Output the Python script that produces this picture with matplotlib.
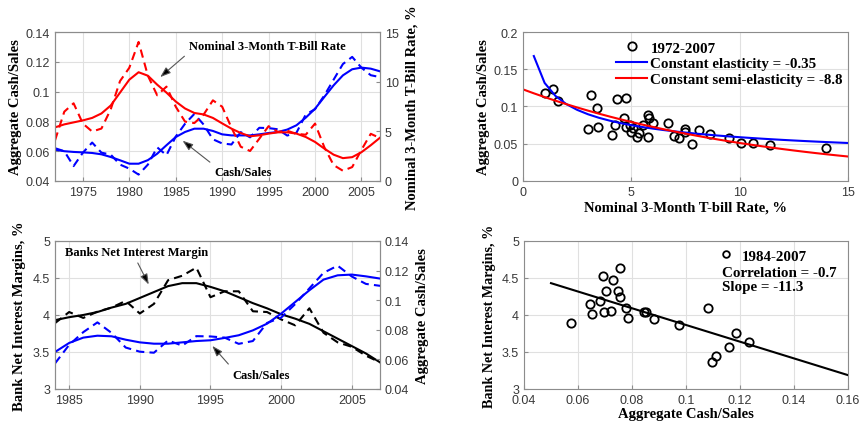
import numpy as np
import matplotlib.pyplot as plt
from matplotlib.ticker import FuncFormatter

# annual data 1972-2007
years = np.arange(1972, 2008)
tbill = [4.09, 6.98, 7.82, 5.78, 4.98, 5.28, 7.22, 10.06, 11.4, 14.0, 10.6, 8.63,
         9.5, 7.48, 5.98, 5.83, 6.68, 8.12, 7.48, 5.37, 3.45, 3.02, 4.26, 5.52,
         4.94, 5.06, 4.75, 4.66, 5.78, 3.4, 1.6, 1.03, 1.4, 3.14, 4.75, 4.32]
cash_sales = [0.062, 0.060, 0.050, 0.059, 0.0658, 0.059, 0.0577, 0.051, 0.0483, 0.0443,
              0.051, 0.0626, 0.0573, 0.0698, 0.0784, 0.085, 0.0779, 0.068, 0.0652, 0.0645,
              0.0728, 0.0693, 0.0757, 0.0755, 0.0747, 0.0705, 0.0724, 0.0846, 0.0882, 0.0974,
              0.108, 0.1185, 0.1233, 0.116, 0.111, 0.1097]
tbill_trend = [5.4, 5.7, 5.9, 6.1, 6.35, 6.8, 7.6, 8.9, 10.2, 10.95, 10.6, 9.7,
               8.9, 8.0, 7.3, 6.85, 6.7, 6.35, 5.8, 5.27, 4.83, 4.5, 4.6, 4.77,
               4.9, 4.9, 4.77, 4.43, 3.93, 3.26, 2.65, 2.3, 2.4, 2.9, 3.6, 4.36]
cash_trend = [0.061, 0.060, 0.0595, 0.0592, 0.0588, 0.0579, 0.0561, 0.0539, 0.0516, 0.0516,
              0.054, 0.0583, 0.064, 0.0695, 0.0729, 0.0751, 0.0751, 0.0736, 0.0713, 0.0706,
              0.0706, 0.0706, 0.0713, 0.0722, 0.0729, 0.0745, 0.0774, 0.0825, 0.0885, 0.0964,
              0.1042, 0.1109, 0.115, 0.1161, 0.1154, 0.1136]

# bank data 1984-2007
years_b = np.arange(1984, 2008)
nim = [3.89, 4.04, 3.96, 4.045, 4.10, 4.19, 4.02, 4.15, 4.47, 4.53, 4.64, 4.24,
       4.32, 4.32, 4.05, 4.04, 3.94, 3.86, 4.09, 3.76, 3.63, 3.57, 3.45, 3.36]
nim_trend = [3.93, 3.97, 4.0, 4.04, 4.1, 4.15, 4.23, 4.31, 4.39, 4.43, 4.43, 4.38,
             4.32, 4.24, 4.16, 4.09, 4.01, 3.95, 3.88, 3.78, 3.68, 3.58, 3.48, 3.36]
cash_trend_b = [0.065, 0.0711, 0.0747, 0.076, 0.0756, 0.0733, 0.0715, 0.0706, 0.0706, 0.0715,
                0.0724, 0.0729, 0.0745, 0.0763, 0.0796, 0.0841, 0.0909, 0.0988, 0.1067, 0.1139,
                0.1168, 0.1173, 0.1161, 0.1146]
cash_b = cash_sales[12:]

# fitted money demand curves and regression line
elasticity = -0.35
elasticity_scale = 0.1316
semi_elasticity = -8.8
semi_scale = 0.123
slope = -11.3
intercept = 4.995

plt.rcParams['font.family'] = ['Liberation Sans', 'DejaVu Sans']
plt.rcParams['font.size'] = 9
plt.rcParams['axes.edgecolor'] = '#8c8c8c'
plt.rcParams['axes.linewidth'] = 0.8
plt.rcParams['xtick.color'] = '#8c8c8c'
plt.rcParams['ytick.color'] = '#8c8c8c'
plt.rcParams['xtick.labelcolor'] = '#383838'
plt.rcParams['ytick.labelcolor'] = '#383838'
plt.rcParams['xtick.direction'] = 'in'
plt.rcParams['ytick.direction'] = 'in'
plt.rcParams['xtick.major.size'] = 3
plt.rcParams['ytick.major.size'] = 3
plt.rcParams['grid.color'] = '#e0e0e0'
plt.rcParams['grid.linewidth'] = 0.8

bold = dict(family='Liberation Serif', weight='bold')
fmt = FuncFormatter(lambda v, p: '%g' % v)
dash = (4, 2.5)
arrow = dict(arrowstyle='-|>,head_length=0.7,head_width=0.25', fc='k', ec='#555555', lw=0.8)
lab = 10.5

fig = plt.figure(figsize=(8.61, 4.27), dpi=100)

# top left: time series cash/sales and T-bill rate
ax1 = fig.add_axes([0.0639, 0.5738, 0.3775, 0.3489])
ax1.plot(years, cash_sales, color='b', lw=1.5, ls='--', dashes=dash)
ax1.plot(years, cash_trend, color='b', lw=1.5)
ax1.set_xlim(1972, 2007)
ax1.set_ylim(0.04, 0.14)
ax1.set_xticks([1975, 1980, 1985, 1990, 1995, 2000, 2005])
ax1.set_yticks([0.04, 0.06, 0.08, 0.1, 0.12, 0.14])
ax1.yaxis.set_major_formatter(fmt)
ax1.grid(True)
ax1.set_ylabel('Aggregate Cash/Sales', fontsize=lab, labelpad=3, **bold)
ax1r = ax1.twinx()
ax1r.plot(years, tbill, color='r', lw=1.5, ls='--', dashes=dash)
ax1r.plot(years, tbill_trend, color='r', lw=1.5)
ax1r.set_ylim(0, 15)
ax1r.set_yticks([0, 5, 10, 15])
ax1r.set_ylabel('Nominal 3-Month T-Bill Rate, %', fontsize=lab, labelpad=5, **bold)
ax1.annotate('Nominal 3-Month T-Bill Rate', xy=(1983.1, 0.1085), xytext=(1994.9, 0.1306),
             ha='center', va='center', fontsize=9, **bold,
             arrowprops=dict(arrow, relpos=(0, 0)))
ax1.annotate('Cash/Sales', xy=(1985.5, 0.0682), xytext=(1992.3, 0.046),
             ha='center', va='center', fontsize=9, **bold,
             arrowprops=dict(arrow, relpos=(0, 1)))

# top right: cash/sales vs T-bill rate
ax2 = fig.add_axes([0.6074, 0.5738, 0.3775, 0.3489])
ax2.plot(tbill, cash_sales, 'o', mfc='none', mec='k', ms=6, mew=1.3, label='1972-2007')
r1 = np.arange(0.5, 15.01, 0.5)
r2 = np.arange(0, 15.01, 0.5)
ax2.plot(r1, elasticity_scale * r1 ** elasticity, color='b', lw=1.5,
         label='Constant elasticity = %g' % elasticity)
ax2.plot(r2, semi_scale * np.exp(semi_elasticity / 100 * r2), color='r', lw=1.5,
         label='Constant semi-elasticity = %g' % semi_elasticity)
ax2.set_xlim(0, 15)
ax2.set_ylim(0, 0.2)
ax2.set_xticks([0, 5, 10, 15])
ax2.set_yticks([0, 0.05, 0.1, 0.15, 0.2])
ax2.yaxis.set_major_formatter(fmt)
ax2.grid(True)
ax2.set_xlabel('Nominal 3-Month T-bill Rate, %', fontsize=lab, labelpad=2, **bold)
ax2.set_ylabel('Aggregate Cash/Sales', fontsize=lab, labelpad=3, **bold)
ax2.legend(loc='upper right', bbox_to_anchor=(1.012, 1.0), frameon=False,
           prop=dict(size=10.8, **bold), handlelength=2.1, handletextpad=0.2,
           labelspacing=0.15, borderaxespad=0.2)

# bottom left: net interest margin and cash/sales
ax3 = fig.add_axes([0.0639, 0.0867, 0.3775, 0.3466])
ax3.plot(years_b, nim, color='k', lw=1.5, ls='--', dashes=dash)
ax3.plot(years_b, nim_trend, color='k', lw=1.5)
ax3.set_xlim(1984, 2007)
ax3.set_ylim(3, 5)
ax3.set_xticks([1985, 1990, 1995, 2000, 2005])
ax3.set_yticks([3, 3.5, 4, 4.5, 5])
ax3.yaxis.set_major_formatter(fmt)
ax3.grid(True)
ax3.set_ylabel('Bank Net Interest Margins, %', fontsize=lab, labelpad=5, **bold)
ax3r = ax3.twinx()
ax3r.plot(years_b, cash_b, color='b', lw=1.5, ls='--', dashes=dash)
ax3r.plot(years_b, cash_trend_b, color='b', lw=1.5)
ax3r.set_ylim(0.04, 0.14)
ax3r.set_yticks([0.04, 0.06, 0.08, 0.1, 0.12, 0.14])
ax3r.yaxis.set_major_formatter(fmt)
ax3r.set_ylabel('Aggregate Cash/Sales', fontsize=lab, labelpad=5, **bold)
ax3.annotate('Banks Net Interest Margin', xy=(1990.72, 4.378), xytext=(1989.77, 4.855),
             ha='center', va='center', fontsize=9, **bold,
             arrowprops=dict(arrow, relpos=(0.49, 0)))
ax3.annotate('Cash/Sales', xy=(1995.0, 3.61), xytext=(1998.6, 3.19),
             ha='center', va='center', fontsize=9, **bold,
             arrowprops=dict(arrow, relpos=(0, 1)))

# bottom right: net interest margin vs cash/sales
ax4 = fig.add_axes([0.6086, 0.0867, 0.3763, 0.3466])
ax4.plot(cash_b, nim, 'o', mfc='none', mec='k', ms=6, mew=1.3, label='1984-2007')
xs = np.array([0.05, 0.16])
ax4.plot(xs, intercept + slope * xs, color='k', lw=1.5)
ax4.set_xlim(0.04, 0.16)
ax4.set_ylim(3, 5)
ax4.set_xticks([0.04, 0.06, 0.08, 0.1, 0.12, 0.14, 0.16])
ax4.set_yticks([3, 3.5, 4, 4.5, 5])
ax4.xaxis.set_major_formatter(fmt)
ax4.yaxis.set_major_formatter(fmt)
ax4.grid(True)
ax4.set_xlabel('Aggregate Cash/Sales', fontsize=lab, labelpad=1, **bold)
ax4.set_ylabel('Bank Net Interest Margins, %', fontsize=10.2, labelpad=4, **bold)
ax4.legend(loc='upper left', bbox_to_anchor=(0.568, 1.005), frameon=False,
           prop=dict(size=10.8, **bold), handlelength=1.2, handletextpad=0.45,
           borderaxespad=0.2, markerscale=0.8)
ax4.text(0.612, 0.83, 'Correlation = %g\nSlope = %g' % (-0.7, slope),
         transform=ax4.transAxes, va='top', ha='left', fontsize=10.8,
         linespacing=1.05, **bold)

fig.savefig('out.png', dpi=100)
